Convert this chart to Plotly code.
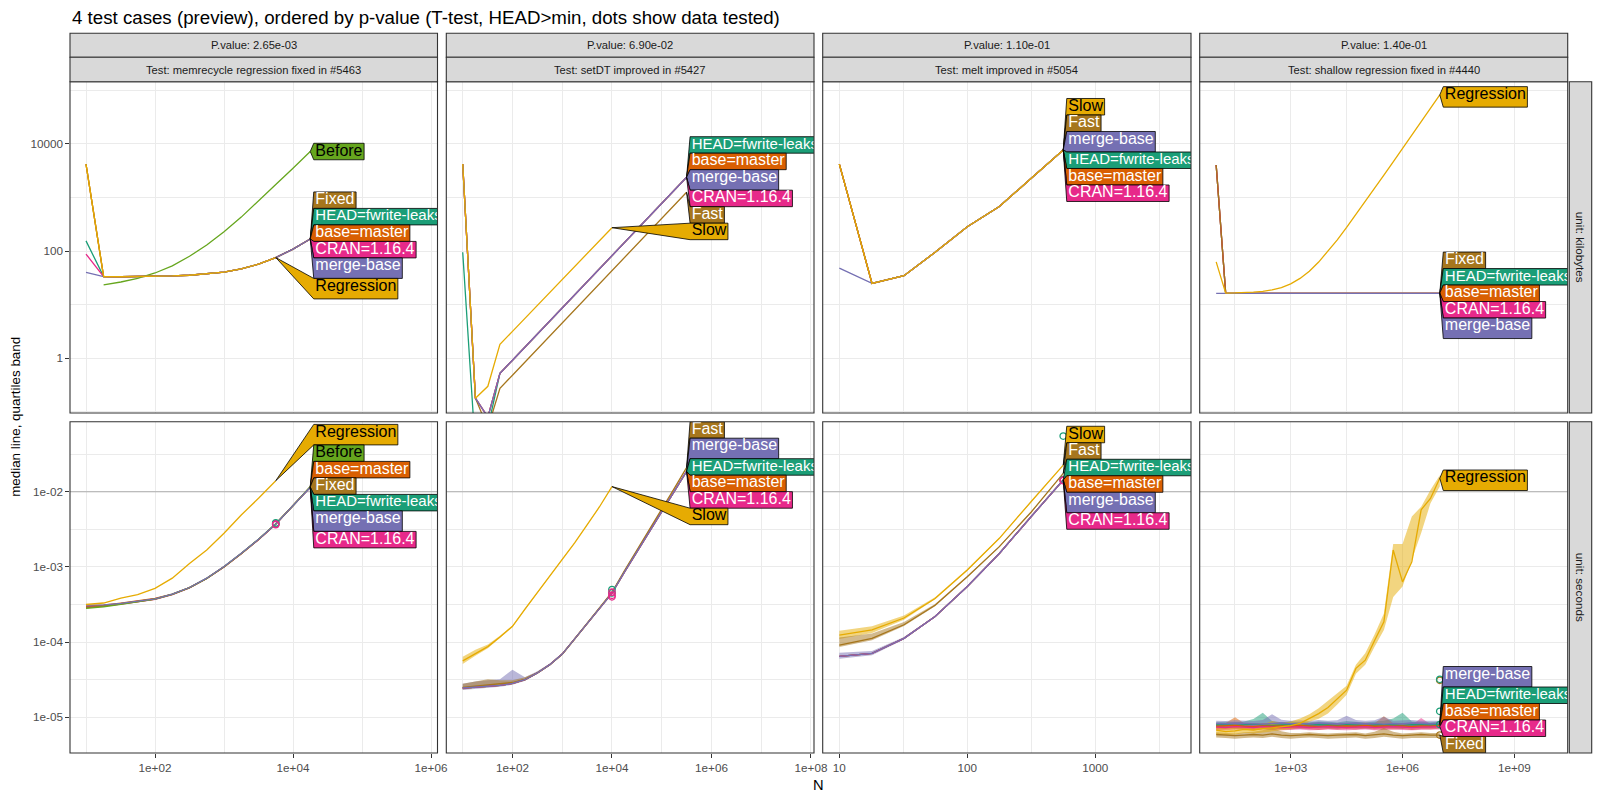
import math
import plotly.graph_objects as go

# =============================== DATA ===============================
N_MEMRECYCLE = [10, 18, 32, 56, 100, 178, 316, 562, 1000, 1778, 3162, 5623, 10000, 17783]
N_SETDT = [10, 18, 32, 56, 100, 178, 316, 562, 1000, 1778, 3162, 5623, 10000, 17783,
           31623, 56234, 100000, 177828, 316228]
N_MELT = [10, 18, 32, 56, 100, 178, 316, 562]
N_SHALLOW = [10, 18, 32, 56, 100, 178, 316, 562, 1000, 1778, 3162, 5623, 10000, 17783,
             31623, 56234, 100000, 177828, 316228, 562341, 1000000, 1778279, 3162278,
             5623413, 10000000]

MEM_KB_HEAD = [155, 33.4, 33.2, 33.4, 33.8, 34.4, 35.4, 37.3, 40.6, 46.5, 57.0, 75.7, 109, 168]
MEM_KB_BASE = [4200, 33.4, 33.2, 33.4, 33.8, 34.4, 35.4, 37.3, 40.6, 46.5, 57.0, 75.7, 109, 168]
MEM_KB_CRAN = [88, 33.4, 33.2, 33.4, 33.8, 34.4, 35.4, 37.3, 40.6, 46.5, 57.0, 75.7, 109, 168]
MEM_KB_MERGE = [40, 33.4, 33.2, 33.4, 33.8, 34.4, 35.4, 37.3, 40.6, 46.5, 57.0, 75.7, 109, 168]
MEM_KB_FIXED = [4200, 33.4, 33.2, 33.4, 33.8, 34.4, 35.4, 37.3, 40.6, 46.5, 57.0, 75.7, 109, 168]
MEM_KB_REGRESSION = [4200, 33.4, 33.2, 33.4, 33.8, 34.4, 35.4, 37.3, 40.6, 46.5, 57.0, 75.7]
MEM_KB_BEFORE = [None, 23.4, 26.5, 31, 39, 53, 80, 130, 230, 430, 850, 1750, 3500, 7200]

MEM_SEC_HEAD = [2.95e-4, 3.05e-4, 3.24e-4, 3.47e-4, 3.75e-4, 4.33e-4, 5.30e-4, 7.05e-4,
                1.007e-3, 1.51e-3, 2.32e-3, 3.72e-3, 6.46e-3, 1.148e-2]
MEM_SEC_BASE = [3.0e-4, 3.1e-4, 3.3e-4, 3.55e-4, 3.8e-4, 4.35e-4, 5.3e-4, 7.0e-4,
                1.0e-3, 1.5e-3, 2.31e-3, 3.72e-3, 6.5e-3, 1.16e-2]
MEM_SEC_CRAN = [2.9e-4, 3.0e-4, 3.2e-4, 3.42e-4, 3.7e-4, 4.28e-4, 5.25e-4, 7.0e-4,
                1.0e-3, 1.5e-3, 2.3e-3, 3.7e-3, 6.42e-3, 1.14e-2]
MEM_SEC_MERGE = [3.1e-4, 3.12e-4, 3.27e-4, 3.48e-4, 3.76e-4, 4.35e-4, 5.32e-4, 7.08e-4,
                 1.01e-3, 1.52e-3, 2.33e-3, 3.73e-3, 6.47e-3, 1.145e-2]
MEM_SEC_BEFORE = [2.8e-4, 2.95e-4, 3.18e-4, 3.42e-4, 3.72e-4, 4.3e-4, 5.28e-4, 7.02e-4,
                  1.005e-3, 1.51e-3, 2.33e-3, 3.74e-3, 6.5e-3, 1.17e-2]
MEM_SEC_FIXED = [2.85e-4, 3.0e-4, 3.22e-4, 3.45e-4, 3.74e-4, 4.32e-4, 5.3e-4, 7.04e-4,
                 1.006e-3, 1.51e-3, 2.32e-3, 3.72e-3, 6.47e-3, 1.155e-2]
MEM_SEC_REGRESSION = [3.16e-4, 3.31e-4, 3.85e-4, 4.27e-4, 5.19e-4, 7.08e-4, 1.11e-3, 1.68e-3,
                      2.80e-3, 4.90e-3, 8.17e-3, 1.40e-2]

SETDT_KB_HEAD = [95, 0.02, 0.05, 0.525, 0.92, 1.61, 2.83, 4.95, 8.69, 15.2, 26.7, 46.8, 82,
                 144, 251, 442, 776, 1358, 2382]
SETDT_KB_BRANCHES = [4200, 0.18, 0.08, 0.525, 0.92, 1.61, 2.83, 4.95, 8.69, 15.2, 26.7, 46.8, 82,
                     144, 251, 442, 776, 1358, 2382]
SETDT_KB_FAST = [4200, 0.18, 0.05, 0.275, 0.483, 0.847, 1.48, 2.60, 4.56, 8.0, 14.0, 24.5, 43.1,
                 75.5, 132, 232, 407, 713, 1250]
SETDT_KB_SLOW = [4200, 0.18, 0.30, 1.82, 3.18, 5.55, 9.68, 16.9, 29.5, 51.5, 90, 157, 273]

SETDT_SEC_BRANCHES = [2.45e-5, 2.51e-5, 2.57e-5, 2.66e-5, 2.82e-5, 3.16e-5, 3.89e-5, 5.01e-5,
                      6.92e-5, 1.10e-4, 1.74e-4, 2.82e-4, 4.47e-4, 8.51e-4, 1.58e-3, 2.88e-3,
                      5.37e-3, 1.0e-2, 1.86e-2]
SETDT_SEC_FAST = [2.5e-5, 2.6e-5, 2.7e-5, 2.75e-5, 2.9e-5, 3.2e-5, 3.9e-5, 5.0e-5, 6.9e-5,
                  1.1e-4, 1.78e-4, 2.9e-4, 4.6e-4, 8.9e-4, 1.66e-3, 3.05e-3, 5.75e-3, 1.1e-2,
                  2.09e-2]
SETDT_SEC_SLOW = [5.62e-5, 7.08e-5, 8.71e-5, 1.17e-4, 1.62e-4, 2.75e-4, 4.57e-4, 7.59e-4,
                  1.26e-3, 2.09e-3, 3.63e-3, 6.31e-3, 1.17e-2]
SETDT_SEC_SLOW_Q25 = [5.1e-5, 6.6e-5, 8.3e-5, 1.13e-4, 1.58e-4, 2.7e-4, 4.5e-4, 7.5e-4, 1.25e-3,
                      2.07e-3, 3.6e-3, 6.25e-3, 1.16e-2]
SETDT_SEC_SLOW_Q75 = [6.4e-5, 7.9e-5, 9.3e-5, 1.21e-4, 1.66e-4, 2.8e-4, 4.65e-4, 7.7e-4, 1.28e-3,
                      2.11e-3, 3.67e-3, 6.37e-3, 1.18e-2]
SETDT_SEC_MERGE_Q25 = [2.3e-5, 2.4e-5, 2.45e-5, 2.55e-5, 2.7e-5, 3.05e-5, 3.8e-5, 4.9e-5, 6.8e-5,
                       1.08e-4, 1.71e-4, 2.78e-4, 4.42e-4, 8.4e-4, 1.56e-3, 2.85e-3, 5.3e-3,
                       9.9e-3, 1.84e-2]
SETDT_SEC_MERGE_Q75 = [2.8e-5, 3.0e-5, 3.1e-5, 3.2e-5, 4.3e-5, 3.4e-5, 4.1e-5, 5.2e-5, 7.1e-5,
                       1.12e-4, 1.77e-4, 2.86e-4, 4.52e-4, 8.6e-4, 1.6e-3, 2.91e-3, 5.44e-3,
                       1.01e-2, 1.88e-2]
SETDT_SEC_FAST_Q25 = [2.35e-5, 2.45e-5, 2.5e-5, 2.6e-5, 2.75e-5, 3.05e-5, 3.8e-5, 4.9e-5, 6.8e-5,
                      1.08e-4, 1.75e-4, 2.86e-4, 4.55e-4, 8.8e-4, 1.64e-3, 3.02e-3, 5.7e-3,
                      1.09e-2, 2.07e-2]
SETDT_SEC_FAST_Q75 = [2.8e-5, 3.0e-5, 3.2e-5, 3.1e-5, 3.1e-5, 3.4e-5, 4.0e-5, 5.1e-5, 7.0e-5,
                      1.12e-4, 1.81e-4, 2.94e-4, 4.65e-4, 9.0e-4, 1.68e-3, 3.08e-3, 5.8e-3,
                      1.11e-2, 2.11e-2]

MELT_KB_BRANCHES = [4200, 25, 34.7, 95, 285, 676, 2290, 7690]
MELT_KB_MERGE = [48, 25, 34.7, 95, 285, 676, 2290, 7690]

MELT_SEC_SLOW = [1.24e-4, 1.45e-4, 2.09e-4, 3.80e-4, 9.12e-4, 2.40e-3, 7.41e-3, 2.26e-2]
MELT_SEC_FAST = [9.12e-5, 1.12e-4, 1.70e-4, 3.09e-4, 7.41e-4, 1.86e-3, 5.37e-3, 1.75e-2]
MELT_SEC_BRANCHES = [6.46e-5, 7.08e-5, 1.12e-4, 2.19e-4, 5.50e-4, 1.51e-3, 4.68e-3, 1.43e-2]
MELT_SEC_SLOW_Q25 = [1.1e-4, 1.32e-4, 1.98e-4, 3.7e-4, 8.9e-4, 2.36e-3, 7.3e-3, 2.23e-2]
MELT_SEC_SLOW_Q75 = [1.42e-4, 1.62e-4, 2.25e-4, 3.95e-4, 9.4e-4, 2.45e-3, 7.5e-3, 2.29e-2]
MELT_SEC_FAST_Q25 = [8.6e-5, 1.06e-4, 1.64e-4, 3.0e-4, 7.3e-4, 1.83e-3, 5.3e-3, 1.73e-2]
MELT_SEC_FAST_Q75 = [1.15e-4, 1.3e-4, 1.85e-4, 3.2e-4, 7.6e-4, 1.9e-3, 5.45e-3, 1.77e-2]
MELT_SEC_MERGE_Q25 = [6.0e-5, 6.7e-5, 1.08e-4, 2.14e-4, 5.4e-4, 1.49e-3, 4.62e-3, 1.41e-2]
MELT_SEC_MERGE_Q75 = [7.2e-5, 7.6e-5, 1.17e-4, 2.24e-4, 5.6e-4, 1.53e-3, 4.74e-3, 1.45e-2]

SHALLOW_KB_BRANCHES = [4040, 16.3, 16.3, 16.3, 16.3, 16.3, 16.3, 16.3, 16.3, 16.3, 16.3, 16.3, 16.3,
                       16.3, 16.3, 16.3, 16.3, 16.3, 16.3, 16.3, 16.3, 16.3, 16.3, 16.3, 16.3]
SHALLOW_KB_MERGE = [16.3, 16.3, 16.3, 16.3, 16.3, 16.3, 16.3, 16.3, 16.3, 16.3, 16.3, 16.3, 16.3,
                    16.3, 16.3, 16.3, 16.3, 16.3, 16.3, 16.3, 16.3, 16.3, 16.3, 16.3, 16.3]
SHALLOW_KB_REGRESSION = [63, 16.45, 16.56, 16.76, 17.1, 17.76, 18.9, 20.9, 24.5, 30.9, 42.2, 62.4,
                         98.3, 162, 276, 478, 836, 1474, 2609, 4628, 8216, 14598, 25947, 46129,
                         82016]

SHALLOW_SEC_HEAD = [7.9e-6, 8.0e-6, 7.8e-6, 7.9e-6, 8.1e-6, 7.9e-6, 7.8e-6, 7.9e-6, 8.0e-6, 7.8e-6,
                    7.9e-6, 8.0e-6, 7.9e-6, 7.8e-6, 8.0e-6, 7.9e-6, 7.8e-6, 7.9e-6, 8.0e-6, 7.9e-6,
                    7.8e-6, 8.0e-6, 7.9e-6, 7.9e-6, 8.0e-6]
SHALLOW_SEC_BASE = [7.6e-6, 7.7e-6, 7.8e-6, 7.6e-6, 7.5e-6, 7.7e-6, 7.6e-6, 7.7e-6, 7.6e-6, 7.8e-6,
                    7.6e-6, 7.5e-6, 7.7e-6, 7.6e-6, 7.7e-6, 7.6e-6, 7.8e-6, 7.6e-6, 7.7e-6, 7.6e-6,
                    7.7e-6, 7.5e-6, 7.7e-6, 7.6e-6, 7.8e-6]
SHALLOW_SEC_CRAN = [7.4e-6, 7.3e-6, 7.5e-6, 7.4e-6, 7.3e-6, 7.5e-6, 7.4e-6, 7.3e-6, 7.4e-6, 7.5e-6,
                    7.3e-6, 7.4e-6, 7.5e-6, 7.4e-6, 7.3e-6, 7.4e-6, 7.5e-6, 7.3e-6, 7.4e-6, 7.5e-6,
                    7.4e-6, 7.3e-6, 7.4e-6, 7.5e-6, 7.5e-6]
SHALLOW_SEC_MERGE = [8.3e-6, 8.2e-6, 8.4e-6, 8.3e-6, 8.2e-6, 8.1e-6, 8.3e-6, 8.4e-6, 8.2e-6, 8.3e-6,
                     8.2e-6, 8.4e-6, 8.3e-6, 8.2e-6, 8.3e-6, 8.4e-6, 8.2e-6, 8.3e-6, 8.1e-6, 8.3e-6,
                     8.2e-6, 8.4e-6, 8.3e-6, 8.2e-6, 8.3e-6]
SHALLOW_SEC_FIXED = [5.9e-6, 5.8e-6, 5.7e-6, 5.8e-6, 5.9e-6, 5.8e-6, 6.0e-6, 5.8e-6, 5.7e-6, 5.8e-6,
                     5.9e-6, 5.8e-6, 5.7e-6, 5.8e-6, 5.8e-6, 5.9e-6, 5.7e-6, 5.8e-6, 6.0e-6, 5.8e-6,
                     5.7e-6, 5.8e-6, 5.9e-6, 5.8e-6, 5.8e-6]
SHALLOW_SEC_REGRESSION = [6.76e-6, 6.46e-6, 6.61e-6, 6.92e-6, 6.76e-6, 7.08e-6, 7.24e-6, 7.41e-6,
                          7.76e-6, 8.32e-6, 9.55e-6, 1.12e-5, 1.35e-5, 1.74e-5, 2.29e-5, 4.47e-5,
                          5.75e-5, 1.05e-4, 1.86e-4, 1.68e-3, 6.31e-4, 1.17e-3, 5.75e-3, 8.13e-3,
                          1.51e-2]
SHALLOW_SEC_REGRESSION_Q25 = [6.0e-6, 5.8e-6, 5.9e-6, 6.2e-6, 6.1e-6, 6.4e-6, 6.5e-6, 6.7e-6,
                              7.0e-6, 7.5e-6, 8.7e-6, 9.55e-6, 1.12e-5, 1.48e-5, 2.0e-5, 3.8e-5,
                              5.0e-5, 8.7e-5, 1.45e-4, 3.98e-4, 5.5e-4, 1.23e-3, 2.82e-3, 7.0e-3,
                              1.17e-2]
SHALLOW_SEC_REGRESSION_Q75 = [7.5e-6, 7.2e-6, 7.4e-6, 7.8e-6, 7.6e-6, 8.0e-6, 8.9e-6, 8.4e-6,
                              8.8e-6, 9.6e-6, 1.1e-5, 1.32e-5, 1.66e-5, 2.09e-5, 2.63e-5, 5.0e-5,
                              7.08e-5, 1.26e-4, 2.4e-4, 2.02e-3, 2.02e-3, 4.68e-3, 6.31e-3, 1.05e-2,
                              1.66e-2]
SHALLOW_SEC_HEAD_Q25 = [7.2e-6, 7.3e-6, 7.1e-6, 7.2e-6, 7.4e-6, 7.2e-6, 7.1e-6, 7.2e-6, 7.3e-6,
                        7.1e-6, 7.2e-6, 7.3e-6, 7.2e-6, 7.1e-6, 7.3e-6, 7.2e-6, 7.1e-6, 7.2e-6,
                        7.3e-6, 7.2e-6, 7.1e-6, 7.3e-6, 7.2e-6, 7.2e-6, 7.3e-6]
SHALLOW_SEC_HEAD_Q75 = [8.6e-6, 8.7e-6, 8.5e-6, 8.8e-6, 9.5e-6, 1.15e-5, 8.9e-6, 8.6e-6, 8.8e-6,
                        8.5e-6, 8.6e-6, 8.8e-6, 8.7e-6, 8.5e-6, 8.9e-6, 8.6e-6, 8.5e-6, 8.8e-6,
                        9.0e-6, 9.6e-6, 1.15e-5, 8.8e-6, 8.7e-6, 8.6e-6, 8.8e-6]
SHALLOW_SEC_MERGE_Q25 = [7.6e-6, 7.5e-6, 7.7e-6, 7.6e-6, 7.5e-6, 7.4e-6, 7.6e-6, 7.7e-6, 7.5e-6,
                         7.6e-6, 7.5e-6, 7.7e-6, 7.6e-6, 7.5e-6, 7.6e-6, 7.7e-6, 7.5e-6, 7.6e-6,
                         7.4e-6, 7.6e-6, 7.5e-6, 7.7e-6, 7.6e-6, 7.5e-6, 7.6e-6]
SHALLOW_SEC_MERGE_Q75 = [9.0e-6, 8.9e-6, 9.1e-6, 9.0e-6, 8.9e-6, 9.2e-6, 1.1e-5, 9.3e-6, 9.0e-6,
                         9.1e-6, 8.9e-6, 9.2e-6, 9.0e-6, 9.1e-6, 1.05e-5, 9.2e-6, 9.0e-6, 9.1e-6,
                         1.02e-5, 9.0e-6, 9.1e-6, 9.2e-6, 9.0e-6, 9.1e-6, 9.0e-6]
SHALLOW_SEC_BASE_Q25 = [6.9e-6, 7.0e-6, 7.1e-6, 6.9e-6, 6.8e-6, 7.0e-6, 6.9e-6, 7.0e-6, 6.9e-6,
                        7.1e-6, 6.9e-6, 6.8e-6, 7.0e-6, 6.9e-6, 7.0e-6, 6.9e-6, 7.1e-6, 6.9e-6,
                        7.0e-6, 6.9e-6, 7.0e-6, 6.8e-6, 7.0e-6, 6.9e-6, 7.1e-6]
SHALLOW_SEC_BASE_Q75 = [8.3e-6, 8.4e-6, 1.0e-5, 8.3e-6, 8.2e-6, 8.4e-6, 8.3e-6, 8.4e-6, 8.3e-6,
                        8.5e-6, 8.3e-6, 8.2e-6, 8.4e-6, 8.3e-6, 8.4e-6, 8.3e-6, 8.5e-6, 8.3e-6,
                        1.03e-5, 8.3e-6, 8.4e-6, 8.2e-6, 8.4e-6, 8.3e-6, 8.5e-6]
SHALLOW_SEC_CRAN_Q25 = [6.8e-6, 6.7e-6, 6.9e-6, 6.8e-6, 6.7e-6, 6.9e-6, 6.8e-6, 6.7e-6, 6.8e-6,
                        6.9e-6, 6.7e-6, 6.8e-6, 6.9e-6, 6.8e-6, 6.7e-6, 6.8e-6, 6.9e-6, 6.7e-6,
                        6.8e-6, 6.9e-6, 6.8e-6, 6.7e-6, 6.8e-6, 6.9e-6, 6.9e-6]
SHALLOW_SEC_CRAN_Q75 = [8.0e-6, 7.9e-6, 8.1e-6, 8.0e-6, 7.9e-6, 8.1e-6, 8.0e-6, 7.9e-6, 8.0e-6,
                        8.1e-6, 7.9e-6, 8.0e-6, 8.1e-6, 8.0e-6, 7.9e-6, 8.0e-6, 8.1e-6, 7.9e-6,
                        8.0e-6, 8.1e-6, 8.0e-6, 7.9e-6, 9.8e-6, 8.1e-6, 8.1e-6]
SHALLOW_SEC_FIXED_Q25 = [5.4e-6, 5.3e-6, 5.2e-6, 5.3e-6, 5.4e-6, 5.3e-6, 5.5e-6, 5.3e-6, 5.2e-6,
                         5.3e-6, 5.4e-6, 5.3e-6, 5.2e-6, 5.3e-6, 5.3e-6, 5.4e-6, 5.2e-6, 5.3e-6,
                         5.5e-6, 5.3e-6, 5.2e-6, 5.3e-6, 5.4e-6, 5.3e-6, 5.3e-6]
SHALLOW_SEC_FIXED_Q75 = [6.3e-6, 6.2e-6, 6.1e-6, 6.3e-6, 6.4e-6, 6.7e-6, 7.2e-6, 6.5e-6, 6.2e-6,
                         6.2e-6, 6.3e-6, 6.2e-6, 6.1e-6, 6.2e-6, 6.2e-6, 6.3e-6, 6.1e-6, 6.4e-6,
                         7.2e-6, 6.4e-6, 6.1e-6, 6.2e-6, 6.3e-6, 6.2e-6, 6.2e-6]

MEM_DOTS_N = 5623
MEM_DOTS_HEAD = [3.85e-3, 3.75e-3]
MEM_DOTS_CRAN = [3.7e-3, 3.65e-3]
SETDT_DOTS_N = 10000
SETDT_DOTS_HEAD = [5.0e-4, 4.5e-4]
SETDT_DOTS_CRAN = [4.6e-4, 4.2e-4, 4.0e-4]
MELT_DOTS_N = 562
MELT_DOTS_HEAD = [5.5e-2, 1.45e-2]
MELT_DOTS_CRAN = [1.42e-2, 1.40e-2]
SHALLOW_DOTS_N = 10000000
SHALLOW_DOTS_HEAD = [3.2e-5, 1.2e-5, 8.0e-6]
SHALLOW_DOTS_FIXED = [3.1e-5, 5.8e-6]

REF_LINE_SECONDS = 0.01

TESTS = ["memrecycle regression fixed in #5463", "setDT improved in #5427",
         "melt improved in #5054", "shallow regression fixed in #4440"]
P_VALUES = ["2.65e-03", "6.90e-02", "1.10e-01", "1.40e-01"]
UNITS = ["kilobytes", "seconds"]
TITLE = "4 test cases (preview), ordered by p-value (T-test, HEAD>min, dots show data tested)"

H, B, M, C = "HEAD=fwrite-leaks", "base=master", "merge-base", "CRAN=1.16.4"

PANEL_SERIES = {
    (0, 0): {H: (N_MEMRECYCLE, MEM_KB_HEAD), B: (N_MEMRECYCLE, MEM_KB_BASE),
             C: (N_MEMRECYCLE, MEM_KB_CRAN), M: (N_MEMRECYCLE, MEM_KB_MERGE),
             "Fixed": (N_MEMRECYCLE, MEM_KB_FIXED), "Before": (N_MEMRECYCLE, MEM_KB_BEFORE),
             "Regression": (N_MEMRECYCLE, MEM_KB_REGRESSION)},
    (1, 0): {H: (N_MEMRECYCLE, MEM_SEC_HEAD), B: (N_MEMRECYCLE, MEM_SEC_BASE),
             C: (N_MEMRECYCLE, MEM_SEC_CRAN), M: (N_MEMRECYCLE, MEM_SEC_MERGE),
             "Fixed": (N_MEMRECYCLE, MEM_SEC_FIXED), "Before": (N_MEMRECYCLE, MEM_SEC_BEFORE),
             "Regression": (N_MEMRECYCLE, MEM_SEC_REGRESSION)},
    (0, 1): {H: (N_SETDT, SETDT_KB_HEAD), B: (N_SETDT, SETDT_KB_BRANCHES),
             C: (N_SETDT, SETDT_KB_BRANCHES), M: (N_SETDT, SETDT_KB_BRANCHES),
             "Fast": (N_SETDT, SETDT_KB_FAST), "Slow": (N_SETDT, SETDT_KB_SLOW)},
    (1, 1): {H: (N_SETDT, SETDT_SEC_BRANCHES), B: (N_SETDT, SETDT_SEC_BRANCHES),
             C: (N_SETDT, SETDT_SEC_BRANCHES), M: (N_SETDT, SETDT_SEC_BRANCHES),
             "Fast": (N_SETDT, SETDT_SEC_FAST), "Slow": (N_SETDT, SETDT_SEC_SLOW)},
    (0, 2): {H: (N_MELT, MELT_KB_BRANCHES), B: (N_MELT, MELT_KB_BRANCHES),
             C: (N_MELT, MELT_KB_BRANCHES), M: (N_MELT, MELT_KB_MERGE),
             "Fast": (N_MELT, MELT_KB_BRANCHES), "Slow": (N_MELT, MELT_KB_BRANCHES)},
    (1, 2): {H: (N_MELT, MELT_SEC_BRANCHES), B: (N_MELT, MELT_SEC_BRANCHES),
             C: (N_MELT, MELT_SEC_BRANCHES), M: (N_MELT, MELT_SEC_BRANCHES),
             "Fast": (N_MELT, MELT_SEC_FAST), "Slow": (N_MELT, MELT_SEC_SLOW)},
    (0, 3): {H: (N_SHALLOW, SHALLOW_KB_BRANCHES), B: (N_SHALLOW, SHALLOW_KB_BRANCHES),
             C: (N_SHALLOW, SHALLOW_KB_BRANCHES), M: (N_SHALLOW, SHALLOW_KB_MERGE),
             "Fixed": (N_SHALLOW, SHALLOW_KB_BRANCHES),
             "Regression": (N_SHALLOW, SHALLOW_KB_REGRESSION)},
    (1, 3): {H: (N_SHALLOW, SHALLOW_SEC_HEAD), B: (N_SHALLOW, SHALLOW_SEC_BASE),
             C: (N_SHALLOW, SHALLOW_SEC_CRAN), M: (N_SHALLOW, SHALLOW_SEC_MERGE),
             "Fixed": (N_SHALLOW, SHALLOW_SEC_FIXED),
             "Regression": (N_SHALLOW, SHALLOW_SEC_REGRESSION)},
}

PANEL_BANDS = {
    (1, 1): {"Slow": (N_SETDT, SETDT_SEC_SLOW_Q25, SETDT_SEC_SLOW_Q75),
             M: (N_SETDT, SETDT_SEC_MERGE_Q25, SETDT_SEC_MERGE_Q75),
             "Fast": (N_SETDT, SETDT_SEC_FAST_Q25, SETDT_SEC_FAST_Q75)},
    (1, 2): {"Slow": (N_MELT, MELT_SEC_SLOW_Q25, MELT_SEC_SLOW_Q75),
             "Fast": (N_MELT, MELT_SEC_FAST_Q25, MELT_SEC_FAST_Q75),
             M: (N_MELT, MELT_SEC_MERGE_Q25, MELT_SEC_MERGE_Q75)},
    (1, 3): {H: (N_SHALLOW, SHALLOW_SEC_HEAD_Q25, SHALLOW_SEC_HEAD_Q75),
             B: (N_SHALLOW, SHALLOW_SEC_BASE_Q25, SHALLOW_SEC_BASE_Q75),
             C: (N_SHALLOW, SHALLOW_SEC_CRAN_Q25, SHALLOW_SEC_CRAN_Q75),
             M: (N_SHALLOW, SHALLOW_SEC_MERGE_Q25, SHALLOW_SEC_MERGE_Q75),
             "Fixed": (N_SHALLOW, SHALLOW_SEC_FIXED_Q25, SHALLOW_SEC_FIXED_Q75),
             "Regression": (N_SHALLOW, SHALLOW_SEC_REGRESSION_Q25, SHALLOW_SEC_REGRESSION_Q75)},
}

PANEL_DOTS = {
    (1, 0): {H: (MEM_DOTS_N, MEM_DOTS_HEAD), C: (MEM_DOTS_N, MEM_DOTS_CRAN)},
    (1, 1): {H: (SETDT_DOTS_N, SETDT_DOTS_HEAD), C: (SETDT_DOTS_N, SETDT_DOTS_CRAN)},
    (1, 2): {H: (MELT_DOTS_N, MELT_DOTS_HEAD), C: (MELT_DOTS_N, MELT_DOTS_CRAN)},
    (1, 3): {"Fixed": (SHALLOW_DOTS_N, SHALLOW_DOTS_FIXED), H: (SHALLOW_DOTS_N, SHALLOW_DOTS_HEAD)},
}

LABEL_ORDER = {
    (0, 0): ["Before", "Fixed", H, B, C, M, "Regression"],
    (0, 1): [H, B, M, C, "Fast", "Slow"],
    (0, 2): ["Slow", "Fast", M, H, B, C],
    (0, 3): ["Regression", "Fixed", H, B, C, M],
    (1, 0): ["Regression", "Before", B, "Fixed", H, M, C],
    (1, 1): ["Fast", M, H, B, C, "Slow"],
    (1, 2): ["Slow", "Fast", H, B, M, C],
    (1, 3): ["Regression", M, H, B, C, "Fixed"],
}

# ============================ STYLE / LAYOUT ============================
SERIES_COLORS = {H: "#1B9E77", B: "#D95F02", M: "#7570B3", C: "#E7298A",
                 "Before": "#66A61E", "Regression": "#E6AB02", "Slow": "#E6AB02",
                 "Fixed": "#A6761D", "Fast": "#A6761D"}
DARK_TEXT = {"Before", "Regression", "Slow"}
DRAW_ORDER = [H, B, C, "Fixed", "Fast", "Before", M, "Regression", "Slow"]

FIG_W, FIG_H = 1600, 800
FONT = "Liberation Sans, Arial, Helvetica, sans-serif"
COL_PX = [(70.0, 437.5), (446.3, 814.0), (822.7, 1191.0), (1199.7, 1567.7)]
ROW_PX = [(81.7, 413.0), (421.7, 753.0)]
X_RANGES = [(0.768, 6.094), (0.670, 8.061), (0.870, 3.748), (0.558, 10.432)]
Y_RANGES = [(-1.021, 5.160), (-5.475, -1.069)]
X_MAJOR = [[1e2, 1e4, 1e6], [1e2, 1e4, 1e6, 1e8], [10, 100, 1000], [1e3, 1e6, 1e9]]
X_MAJOR_TEXT = [["1e+02", "1e+04", "1e+06"], ["1e+02", "1e+04", "1e+06", "1e+08"],
                ["10", "100", "1000"], ["1e+03", "1e+06", "1e+09"]]
X_MINOR = [[1e1, 1e3, 1e5], [1e1, 1e3, 1e5, 1e7], [10 ** 1.5, 10 ** 2.5, 10 ** 3.5],
           [10 ** 1.5, 10 ** 4.5, 10 ** 7.5]]
Y_MAJOR = [[1, 100, 1e4], [1e-5, 1e-4, 1e-3, 1e-2]]
Y_MAJOR_TEXT = [["1", "100", "10000"], ["1e-05", "1e-04", "1e-03", "1e-02"]]
Y_MINOR = [[0.1, 10, 1e3, 1e5], [10 ** -4.5, 10 ** -3.5, 10 ** -2.5, 10 ** -1.5]]

LABEL_FONT_SIZE = 16
LABEL_FONT_OVERRIDE = {H: 15}
BOX_H = 16.5
BOX_H_DESC = 20.5
BOX_PAD = 1.6
TIP_GAP = 3.5

CHAR_W = {'A': 667, 'B': 667, 'C': 722, 'D': 722, 'E': 667, 'F': 611, 'H': 722, 'N': 722,
          'R': 722, 'S': 667, '=': 584, '.': 278, '-': 333, 'a': 556, 'b': 556, 'd': 556,
          'e': 556, 'f': 278, 'g': 556, 'i': 222, 'k': 500, 'l': 222, 'm': 833, 'n': 556,
          'o': 556, 'r': 333, 's': 500, 't': 278, 'w': 722, 'x': 500}


def text_width(s, size):
    return sum(CHAR_W.get(ch, 556) for ch in s) * size / 1000.0


def x_to_px(col, x):
    lx0, lx1 = X_RANGES[col]
    p0, p1 = COL_PX[col]
    return p0 + (math.log10(x) - lx0) / (lx1 - lx0) * (p1 - p0)


def y_to_px(row, y):
    ly0, ly1 = Y_RANGES[row]
    p0, p1 = ROW_PX[row]
    return p0 + (ly1 - math.log10(y)) / (ly1 - ly0) * (p1 - p0)


def px_to_x(col, px):
    lx0, lx1 = X_RANGES[col]
    p0, p1 = COL_PX[col]
    return 10 ** (lx0 + (px - p0) / (p1 - p0) * (lx1 - lx0))


def px_to_y(row, py):
    ly0, ly1 = Y_RANGES[row]
    p0, p1 = ROW_PX[row]
    return 10 ** (ly1 - (py - p0) / (p1 - p0) * (ly1 - ly0))


def pava(a):
    blocks = []
    for v in a:
        blocks.append([v, 1])
        while len(blocks) > 1 and blocks[-2][0] / blocks[-2][1] > blocks[-1][0] / blocks[-1][1]:
            s, c = blocks.pop()
            blocks[-1][0] += s
            blocks[-1][1] += c
    out = []
    for s, c in blocks:
        out += [s / c] * c
    return out


def rgba(hexcol, a):
    h = hexcol.lstrip('#')
    return "rgba(%d,%d,%d,%.2f)" % (int(h[0:2], 16), int(h[2:4], 16), int(h[4:6], 16), a)


fig = go.Figure()

for row in range(2):
    for col in range(4):
        n = row * 4 + col + 1
        xa = "x" if n == 1 else "x%d" % n
        ya = "y" if n == 1 else "y%d" % n
        series = PANEL_SERIES[(row, col)]

        if row == 1:
            fig.add_trace(go.Scatter(
                x=[10 ** X_RANGES[col][0], 10 ** X_RANGES[col][1]],
                y=[REF_LINE_SECONDS, REF_LINE_SECONDS], mode="lines",
                line=dict(color="#ADADAD", width=1.1), xaxis=xa, yaxis=ya,
                showlegend=False, hoverinfo="skip"))

        for name, (xs, lo, hi) in PANEL_BANDS.get((row, col), {}).items():
            bx = list(xs)[:len(lo)]
            fig.add_trace(go.Scatter(
                x=bx + bx[::-1], y=list(hi) + list(lo)[::-1],
                mode="lines", fill="toself", fillcolor=rgba(SERIES_COLORS[name], 0.5),
                line=dict(width=0), xaxis=xa, yaxis=ya, showlegend=False, hoverinfo="skip"))

        for name in DRAW_ORDER:
            if name not in series:
                continue
            xs, ys = series[name]
            fig.add_trace(go.Scatter(
                x=list(xs)[:len(ys)], y=ys, mode="lines",
                line=dict(color=SERIES_COLORS[name], width=1.3),
                xaxis=xa, yaxis=ya, showlegend=False, hoverinfo="skip",
                connectgaps=False))

        for name, (nx, vals) in PANEL_DOTS.get((row, col), {}).items():
            fig.add_trace(go.Scatter(
                x=[nx] * len(vals), y=vals, mode="markers",
                marker=dict(symbol="circle-open", size=6.5, color=SERIES_COLORS[name],
                            line=dict(width=1.3, color=SERIES_COLORS[name])),
                xaxis=xa, yaxis=ya, showlegend=False, hoverinfo="skip"))

        order = LABEL_ORDER[(row, col)]
        tips = {}
        for name in order:
            xs, ys = series[name]
            pts = [(x, y) for x, y in zip(xs, ys) if y is not None]
            lx, lyv = pts[-1]
            tips[name] = (x_to_px(col, lx), y_to_px(row, lyv))
        left = max(t[0] for t in tips.values()) + TIP_GAP
        heights = [BOX_H_DESC if any(ch in nm for ch in "gjpqy") else BOX_H for nm in order]
        cum, a, c = [], [], 0.0
        for nm, hh in zip(order, heights):
            cum.append(c)
            a.append(tips[nm][1] - BOX_H / 2 - c)
            c += hh
        z = pava(a)
        lo_b = ROW_PX[row][0]
        hi_b = ROW_PX[row][1] - cum[-1] - heights[-1]
        z = [min(max(v, lo_b), hi_b) for v in z]
        for i, nm in enumerate(order):
            fs = LABEL_FONT_OVERRIDE.get(nm, LABEL_FONT_SIZE)
            top = z[i] + cum[i]
            bot = top + heights[i]
            right = left + text_width(nm, fs) + 2 * BOX_PAD
            tx, ty = tips[nm]
            poly = [(tx, ty), (left, top), (right, top), (right, bot), (left, bot), (tx, ty)]
            fig.add_trace(go.Scatter(
                x=[px_to_x(col, p[0]) for p in poly], y=[px_to_y(row, p[1]) for p in poly],
                mode="lines", fill="toself", fillcolor=SERIES_COLORS[nm],
                line=dict(color="#000000", width=0.8), xaxis=xa, yaxis=ya,
                showlegend=False, hoverinfo="skip"))
            fig.add_trace(go.Scatter(
                x=[px_to_x(col, (left + right) / 2)], y=[px_to_y(row, top + BOX_H / 2)],
                mode="text", text=[nm], textposition="middle center",
                textfont=dict(family=FONT, size=fs,
                              color="#000000" if nm in DARK_TEXT else "#FFFFFF"),
                cliponaxis=True, xaxis=xa, yaxis=ya, showlegend=False, hoverinfo="skip"))

layout = dict(
    width=FIG_W, height=FIG_H, autosize=False,
    margin=dict(l=0, r=0, t=0, b=0, pad=0),
    paper_bgcolor="white", plot_bgcolor="white",
    font=dict(family=FONT, color="#000000"),
    hovermode=False, showlegend=False,
)

GRID = "#EBEBEB"
for row in range(2):
    for col in range(4):
        n = row * 4 + col + 1
        sfx = "" if n == 1 else str(n)
        x0, x1 = COL_PX[col]
        y0, y1 = ROW_PX[row]
        show_x = row == 1
        show_y = col == 0
        layout["xaxis" + sfx] = dict(
            type="log", domain=[x0 / FIG_W, x1 / FIG_W], range=list(X_RANGES[col]),
            anchor="y" + sfx, tickmode="array", tickvals=X_MAJOR[col],
            ticktext=X_MAJOR_TEXT[col], showticklabels=show_x,
            ticks="outside" if show_x else "", ticklen=3.7, tickwidth=1.1, tickcolor="#333333",
            tickfont=dict(family=FONT, size=11.7, color="#4D4D4D"),
            showgrid=True, gridcolor=GRID, gridwidth=1.4, zeroline=False, showline=False,
            minor=dict(tickmode="array", tickvals=X_MINOR[col], showgrid=True,
                       gridcolor=GRID, gridwidth=0.7, ticks=""),
            automargin=False, fixedrange=True)
        layout["yaxis" + sfx] = dict(
            type="log", domain=[1 - y1 / FIG_H, 1 - y0 / FIG_H], range=list(Y_RANGES[row]),
            anchor="x" + sfx, tickmode="array", tickvals=Y_MAJOR[row],
            ticktext=Y_MAJOR_TEXT[row], showticklabels=show_y,
            ticks="outside" if show_y else "", ticklen=3.7, tickwidth=1.1, tickcolor="#333333",
            tickfont=dict(family=FONT, size=11.7, color="#4D4D4D"),
            showgrid=True, gridcolor=GRID, gridwidth=1.4, zeroline=False, showline=False,
            minor=dict(tickmode="array", tickvals=Y_MINOR[row], showgrid=True,
                       gridcolor=GRID, gridwidth=0.7, ticks=""),
            automargin=False, fixedrange=True)

shapes, annotations = [], []
BORDER = "#333333"


def prect(x0, y0, x1, y1, fill=None, color=BORDER, width=1.1):
    shapes.append(dict(type="rect", xref="paper", yref="paper",
                       x0=x0 / FIG_W, x1=x1 / FIG_W, y0=1 - y1 / FIG_H, y1=1 - y0 / FIG_H,
                       line=dict(color=color, width=width),
                       fillcolor=fill if fill else "rgba(0,0,0,0)", layer="above"))


def ptext(x, y, text, size, color="#1A1A1A", angle=0, xanchor="center"):
    annotations.append(dict(xref="paper", yref="paper", x=x / FIG_W, y=1 - y / FIG_H,
                            text=text, showarrow=False, textangle=angle,
                            xanchor=xanchor, yanchor="middle",
                            font=dict(family=FONT, size=size, color=color)))


for row in range(2):
    for col in range(4):
        x0, x1 = COL_PX[col]
        y0, y1 = ROW_PX[row]
        prect(x0, y0, x1, y1)

STRIP_FILL = "#D9D9D9"
for col in range(4):
    x0, x1 = COL_PX[col]
    prect(x0, 33.3, x1, 57.3, STRIP_FILL)
    prect(x0, 57.3, x1, ROW_PX[0][0], STRIP_FILL)
    ptext((x0 + x1) / 2, 45.3, "P.value: " + P_VALUES[col], 11.2)
    ptext((x0 + x1) / 2, 69.5, "Test: " + TESTS[col], 11.2)

for row in range(2):
    y0, y1 = ROW_PX[row]
    prect(1569.3, y0, 1591.7, y1, STRIP_FILL)
    ptext(1580.5, (y0 + y1) / 2, "unit: " + UNITS[row], 11.7, angle=90)

ptext(COL_PX[0][0], 18.0, TITLE, 18.7, color="#000000", xanchor="left")
ptext(15.5, (ROW_PX[0][0] + ROW_PX[1][1]) / 2, "median line, quartiles band", 13.4,
      color="#000000", angle=-90)
ptext((COL_PX[0][0] + COL_PX[3][1]) / 2, 785.0, "N", 14.7, color="#000000")

layout["shapes"] = shapes
layout["annotations"] = annotations
fig.update_layout(**layout)

fig.write_html("out.html", config={"displayModeBar": False, "responsive": False},
               post_script="document.body.style.margin='0';document.body.style.overflow='hidden';")
